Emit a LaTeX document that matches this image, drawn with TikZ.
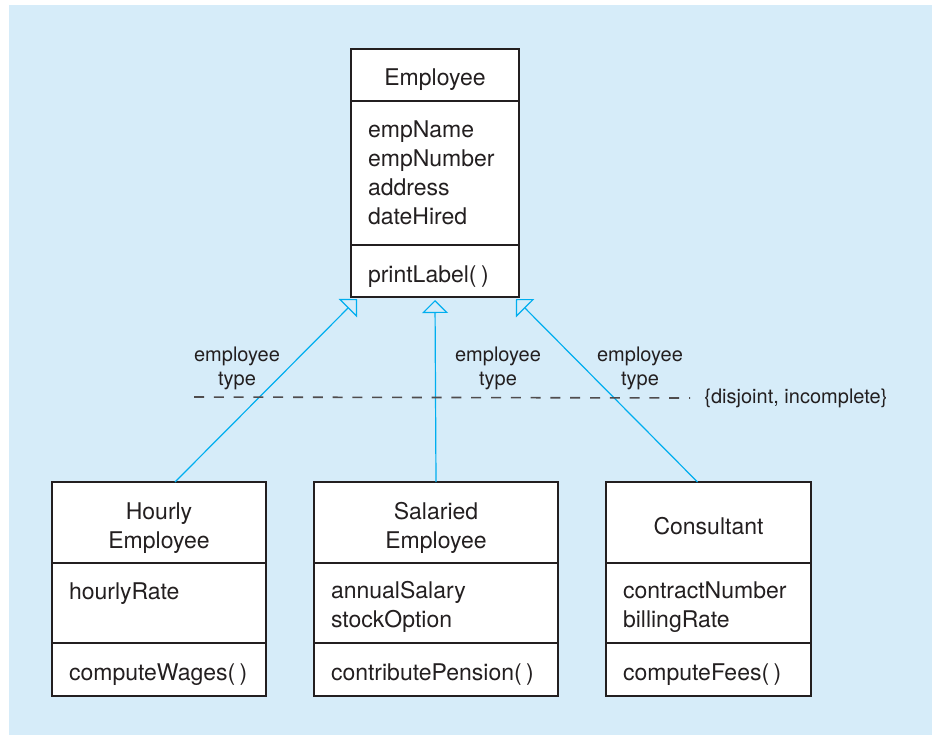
\documentclass[tikz,border=0pt]{standalone}
\usepackage{fontspec}
\setmainfont{TeX Gyre Heros}
\usetikzlibrary{arrows.meta}
\definecolor{bgblue}{RGB}{214,236,249}
\definecolor{linkblue}{RGB}{0,174,239}
\definecolor{ink}{RGB}{35,31,32}

\begin{document}
\begin{tikzpicture}[x=0.5pt,y=-0.5pt,
  part/.style={draw=ink, line width=0.6pt, fill=white, outer sep=0pt, inner xsep=8.5pt, inner ysep=0pt, text=ink, font=\fontsize{11.5pt}{14.5pt}\selectfont},
  struts/.style={execute at begin node=\rule{0pt}{13.5pt}, execute at end node=\rule[-2pt]{0pt}{2pt}},
  head/.style={part, struts, align=center, anchor=north west},
  body/.style={part, align=left, anchor=north},
  ops/.style={body, struts},
  gen/.style={draw=linkblue, line width=0.6pt, -{Triangle[open, length=6.5pt, width=13pt]}},
  lbl/.style={align=center, text=ink, font=\fontsize{10pt}{12pt}\selectfont}]
\useasboundingbox (0,0) rectangle (932,735);
\fill[bgblue] (9,5) rectangle (932,735);

\node[head, text width=67pt, minimum height=26pt] (empH) at (351,49) {Employee};
\node[body, text width=67pt, minimum height=72pt] (empA) at (empH.south) {empName\\empNumber\\address\\dateHired};
\node[ops, text width=67pt, minimum height=26pt] (empO) at (empA.south) {printLabel(\kern2.2pt)};

\node[head, text width=90pt, minimum height=40.5pt] (hrH) at (52,482) {Hourly\\Employee};
\node[body, text width=90pt, minimum height=40pt, execute at begin node=\rule{0pt}{11pt}] (hrA) at (hrH.south) {hourlyRate\\\mbox{}};
\node[ops, text width=90pt, minimum height=26.5pt] (hrO) at (hrA.south) {\mbox{computeWages(\kern2.2pt)}};

\node[head, text width=105pt, minimum height=40.5pt] (salH) at (314,482) {Salaried\\Employee};
\node[body, text width=105pt, minimum height=40pt, execute at begin node=\rule{0pt}{12.5pt}] (salA) at (salH.south) {annualSalary\\stockOption};
\node[ops, text width=105pt, minimum height=26.5pt] (salO) at (salA.south) {\mbox{contributePension(\kern2.2pt)}};

\node[head, text width=85.5pt, minimum height=40.5pt] (conH) at (606,482) {Consultant};
\node[body, text width=85.5pt, minimum height=40pt, execute at begin node=\rule{0pt}{12.5pt}] (conA) at (conH.south) {contractNumber\\billingRate};
\node[ops, text width=85.5pt, minimum height=26.5pt] (conO) at (conA.south) {computeFees(\kern2.2pt)};

\draw[gen] ([xshift=8pt]hrH.north) -- ([xshift=3pt,yshift=-1pt]empO.south west);
\draw[gen] (salH.north) -- ([yshift=-1.5pt]empO.south);
\draw[gen] ([xshift=-5.5pt]conH.north) -- ([xshift=-1.5pt,yshift=-1pt]empO.south east);

\node[lbl] (typeH) at (237,368) {employee\\type};
\node[lbl] (typeS) at (498,368) {employee\\type};
\node[lbl] (typeC) at (640,368) {employee\\type};
\node[lbl, anchor=west, inner sep=0pt] (disj) at (704,398) {\{disjoint, incomplete\}};
\coordinate (dashL) at (194,397);
\draw[draw=ink!80, line width=0.8pt, dash pattern=on 5pt off 4.9pt] (dashL) -- ([xshift=-7pt]disj.west);
\end{tikzpicture}
\end{document}
